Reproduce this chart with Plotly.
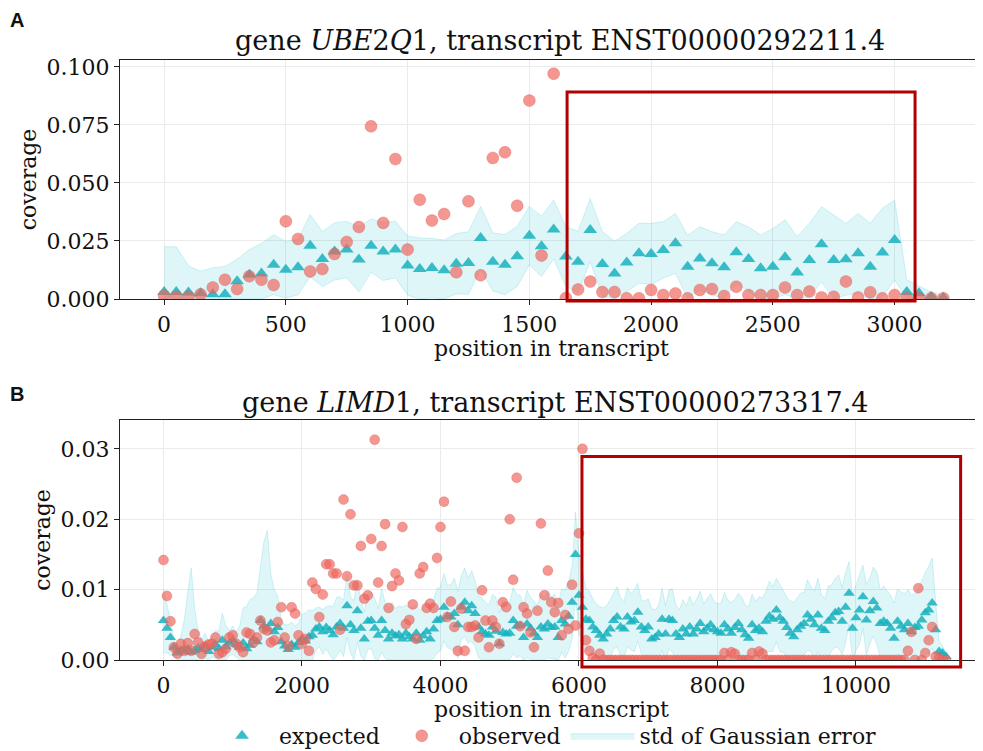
import plotly.graph_objects as go

FONT = "DejaVu Serif"

# ---------------- Panel A data (gene UBE2Q1) ----------------
pos_A = list(range(0, 3201, 50))
expected_A = [
    0.0030, 0.0030, 0.0028, 0.0025, 0.0020, 0.0020, 0.0076, 0.0105, 0.0110, 0.0148,
    0.0126, 0.0137, 0.0230, 0.0172, 0.0205, 0.0213, 0.0170, 0.0230, 0.0205, 0.0213,
    0.0144, 0.0129, 0.0134, 0.0124, 0.0152, 0.0155, 0.0263, 0.0160, 0.0148, 0.0184,
    0.0273, 0.0227, 0.0300, 0.0183, 0.0160, 0.0297, 0.0151, 0.0110, 0.0157, 0.0197,
    0.0194, 0.0211, 0.0240, 0.0139, 0.0175, 0.0154, 0.0137, 0.0201, 0.0172, 0.0132,
    0.0139, 0.0180, 0.0114, 0.0168, 0.0236, 0.0168, 0.0171, 0.0197, 0.0139, 0.0200,
    0.0254, 0.0030, 0.0025, 0.0010, 0.0005]
observed_A = [
    0.0014, 0.0010, 0.0010, 0.0020, 0.0050, 0.0083, 0.0043, 0.0098, 0.0083, 0.0060,
    0.0335, 0.0259, 0.0119, 0.0129, 0.0194, 0.0246, 0.0310, 0.0744, 0.0328, 0.0603,
    0.0213, 0.0428, 0.0338, 0.0366, 0.0115, 0.0421, 0.0102, 0.0608, 0.0632, 0.0402,
    0.0855, 0.0187, 0.0971, 0.0004, 0.0041, 0.0075, 0.0030, 0.0030, 0.0003, 0.0003,
    0.0039, 0.0017, 0.0024, 0.0003, 0.0039, 0.0043, 0.0013, 0.0053, 0.0017, 0.0017,
    0.0017, 0.0050, 0.0017, 0.0032, 0.0007, 0.0010, 0.0075, 0.0007, 0.0029, 0.0003,
    0.0017, 0.0003, 0.0003, 0.0003, 0.0003]
std_A = [
    0.0195, 0.0195, 0.0115, 0.0095, 0.0115, 0.0120, 0.0095, 0.0108, 0.0130, 0.0129,
    0.0123, 0.0119, 0.0134, 0.0119, 0.0123, 0.0122, 0.0140, 0.0115, 0.0125, 0.0122,
    0.0128, 0.0134, 0.0128, 0.0130, 0.0130, 0.0135, 0.0136, 0.0125, 0.0130, 0.0130,
    0.0126, 0.0130, 0.0127, 0.0129, 0.0132, 0.0136, 0.0139, 0.0139, 0.0126, 0.0129,
    0.0132, 0.0122, 0.0129, 0.0136, 0.0136, 0.0136, 0.0139, 0.0132, 0.0139, 0.0144,
    0.0165, 0.0161, 0.0155, 0.0158, 0.0162, 0.0194, 0.0155, 0.0172, 0.0187, 0.0191,
    0.0172, 0.0053, 0.0030, 0.0020, 0.0010]
box_A = dict(x0=1655, x1=3084, y0=-0.0009, y1=0.0892)

# ---------------- Panel B data (gene LIMD1) ----------------
pos_B = list(range(0, 11301, 50))
expected_B = [
    0.0056, 0.0045, 0.0032, 0.0018, 0.0010, 0.0014, 0.0012, 0.0016, 0.0011, 0.0013,
    0.0017, 0.0015, 0.0020, 0.0012, 0.0018, 0.0022, 0.0016, 0.0028, 0.0019, 0.0024,
    0.0028, 0.0022, 0.0018, 0.0024, 0.0016, 0.0021, 0.0030, 0.0026, 0.0056, 0.0048,
    0.0044, 0.0052, 0.0040, 0.0046, 0.0026, 0.0020, 0.0015, 0.0022, 0.0018, 0.0025,
    0.0030, 0.0027, 0.0033, 0.0035, 0.0044, 0.0047, 0.0040, 0.0046, 0.0042, 0.0036,
    0.0047, 0.0052, 0.0045, 0.0077, 0.0050, 0.0042, 0.0070, 0.0045, 0.0030, 0.0055,
    0.0056, 0.0045, 0.0035, 0.0056, 0.0042, 0.0030, 0.0038, 0.0034, 0.0036, 0.0030,
    0.0038, 0.0033, 0.0030, 0.0038, 0.0028, 0.0034, 0.0040, 0.0030, 0.0044, 0.0056,
    0.0058, 0.0075, 0.0062, 0.0061, 0.0066, 0.0050, 0.0075, 0.0082, 0.0070, 0.0077,
    0.0066, 0.0047, 0.0040, 0.0037, 0.0035, 0.0047, 0.0041, 0.0023, 0.0039, 0.0037,
    0.0038, 0.0056, 0.0048, 0.0049, 0.0032, 0.0051, 0.0045, 0.0038, 0.0032, 0.0047,
    0.0044, 0.0051, 0.0046, 0.0047, 0.0032, 0.0056, 0.0051, 0.0062, 0.0082, 0.0150,
    0.0092, 0.0075, 0.0058, 0.0056, 0.0047, 0.0042, 0.0035, 0.0030, 0.0037, 0.0044,
    0.0056, 0.0061, 0.0047, 0.0044, 0.0061, 0.0054, 0.0056, 0.0068, 0.0047, 0.0042,
    0.0047, 0.0030, 0.0032, 0.0037, 0.0058, 0.0037, 0.0058, 0.0056, 0.0037, 0.0032,
    0.0044, 0.0037, 0.0047, 0.0037, 0.0044, 0.0052, 0.0040, 0.0045, 0.0050, 0.0043,
    0.0040, 0.0038, 0.0050, 0.0044, 0.0038, 0.0046, 0.0052, 0.0043, 0.0036, 0.0031,
    0.0050, 0.0042, 0.0045, 0.0040, 0.0055, 0.0062, 0.0058, 0.0071, 0.0060, 0.0055,
    0.0046, 0.0038, 0.0033, 0.0043, 0.0048, 0.0052, 0.0064, 0.0058, 0.0050, 0.0064,
    0.0045, 0.0042, 0.0055, 0.0060, 0.0067, 0.0069, 0.0055, 0.0075, 0.0095, 0.0045,
    0.0060, 0.0071, 0.0090, 0.0057, 0.0070, 0.0083, 0.0074, 0.0052, 0.0055, 0.0052,
    0.0045, 0.0031, 0.0055, 0.0048, 0.0043, 0.0052, 0.0040, 0.0046, 0.0048, 0.0057,
    0.0067, 0.0071, 0.0081, 0.0043, 0.0012, 0.0010, 0.0005]
observed_B = [
    0.0142, 0.0091, 0.0055, 0.0018, 0.0009, 0.0023, 0.0013, 0.0024, 0.0013, 0.0037,
    0.0025, 0.0009, 0.0019, 0.0022, 0.0023, 0.0032, 0.0009, 0.0011, 0.0016, 0.0032,
    0.0035, 0.0023, 0.0018, 0.0011, 0.0039, 0.0037, 0.0025, 0.0032, 0.0056, 0.0044,
    0.0042, 0.0025, 0.0028, 0.0054, 0.0075, 0.0032, 0.0020, 0.0075, 0.0066, 0.0035,
    0.0023, 0.0030, 0.0013, 0.0110, 0.0101, 0.0061, 0.0093, 0.0136, 0.0136, 0.0123,
    0.0123, 0.0043, 0.0228, 0.0119, 0.0207, 0.0106, 0.0106, 0.0162, 0.0087, 0.0092,
    0.0172, 0.0313, 0.0110, 0.0162, 0.0193, 0.0074, 0.0105, 0.0123, 0.0113, 0.0189,
    0.0051, 0.0057, 0.0079, 0.0030, 0.0123, 0.0132, 0.0074, 0.0080, 0.0074, 0.0145,
    0.0189, 0.0225, 0.0061, 0.0083, 0.0047, 0.0013, 0.0073, 0.0013, 0.0047, 0.0047,
    0.0049, 0.0032, 0.0099, 0.0056, 0.0018, 0.0056, 0.0047, 0.0023, 0.0082, 0.0075,
    0.0200, 0.0114, 0.0259, 0.0048, 0.0075, 0.0066, 0.0039, 0.0018, 0.0070, 0.0194,
    0.0092, 0.0127, 0.0082, 0.0068, 0.0081, 0.0035, 0.0064, 0.0044, 0.0107, 0.0049,
    0.0180, 0.0300, 0.0028, 0.0013, 0.0003, 0.0000, 0.0009, 0.0000, 0.0000, 0.0000,
    0.0000, 0.0000, 0.0000, 0.0000, 0.0000, 0.0000, 0.0000, 0.0000, 0.0000, 0.0000,
    0.0000, 0.0000, 0.0000, 0.0000, 0.0000, 0.0000, 0.0000, 0.0000, 0.0000, 0.0000,
    0.0000, 0.0000, 0.0000, 0.0000, 0.0000, 0.0000, 0.0000, 0.0000, 0.0000, 0.0000,
    0.0000, 0.0000, 0.0010, 0.0000, 0.0011, 0.0009, 0.0000, 0.0000, 0.0000, 0.0000,
    0.0010, 0.0000, 0.0012, 0.0009, 0.0000, 0.0000, 0.0000, 0.0000, 0.0000, 0.0000,
    0.0000, 0.0000, 0.0000, 0.0000, 0.0000, 0.0000, 0.0000, 0.0000, 0.0000, 0.0000,
    0.0000, 0.0000, 0.0000, 0.0000, 0.0000, 0.0000, 0.0000, 0.0000, 0.0000, 0.0000,
    0.0000, 0.0000, 0.0000, 0.0000, 0.0000, 0.0000, 0.0000, 0.0000, 0.0000, 0.0000,
    0.0000, 0.0000, 0.0000, 0.0000, 0.0000, 0.0013, 0.0040, 0.0000, 0.0102, 0.0000,
    0.0010, 0.0028, 0.0047, 0.0005, 0.0002, 0.0000, 0.0000]
std_B = [
    0.0045, 0.0035, 0.0025, 0.0012, 0.0010, 0.0020, 0.0045, 0.0080, 0.0120, 0.0060,
    0.0025, 0.0015, 0.0018, 0.0015, 0.0014, 0.0020, 0.0025, 0.0038, 0.0030, 0.0018,
    0.0020, 0.0018, 0.0030, 0.0050, 0.0060, 0.0065, 0.0058, 0.0070, 0.0075, 0.0120,
    0.0140, 0.0070, 0.0060, 0.0045, 0.0030, 0.0030, 0.0035, 0.0032, 0.0030, 0.0028,
    0.0035, 0.0040, 0.0038, 0.0035, 0.0030, 0.0028, 0.0032, 0.0030, 0.0035, 0.0040,
    0.0042, 0.0038, 0.0040, 0.0045, 0.0040, 0.0042, 0.0045, 0.0040, 0.0038, 0.0040,
    0.0040, 0.0043, 0.0038, 0.0045, 0.0040, 0.0042, 0.0044, 0.0039, 0.0041, 0.0045,
    0.0040, 0.0042, 0.0046, 0.0039, 0.0043, 0.0040, 0.0044, 0.0045, 0.0042, 0.0046,
    0.0045, 0.0048, 0.0044, 0.0046, 0.0050, 0.0047, 0.0045, 0.0049, 0.0046, 0.0050,
    0.0047, 0.0044, 0.0048, 0.0045, 0.0043, 0.0046, 0.0048, 0.0044, 0.0046, 0.0045,
    0.0044, 0.0047, 0.0045, 0.0043, 0.0046, 0.0048, 0.0044, 0.0046, 0.0045, 0.0047,
    0.0045, 0.0048, 0.0044, 0.0046, 0.0047, 0.0045, 0.0048, 0.0050, 0.0052, 0.0060,
    0.0055, 0.0048, 0.0045, 0.0042, 0.0040, 0.0038, 0.0041, 0.0044, 0.0040, 0.0042,
    0.0040, 0.0043, 0.0041, 0.0039, 0.0042, 0.0040, 0.0044, 0.0041, 0.0038, 0.0042,
    0.0040, 0.0043, 0.0039, 0.0041, 0.0044, 0.0040, 0.0042, 0.0045, 0.0041, 0.0039,
    0.0042, 0.0040, 0.0044, 0.0041, 0.0043, 0.0046, 0.0040, 0.0042, 0.0044, 0.0041,
    0.0040, 0.0043, 0.0046, 0.0041, 0.0044, 0.0040, 0.0043, 0.0047, 0.0042, 0.0045,
    0.0044, 0.0041, 0.0045, 0.0048, 0.0043, 0.0050, 0.0046, 0.0045, 0.0048, 0.0044,
    0.0043, 0.0046, 0.0049, 0.0045, 0.0047, 0.0044, 0.0050, 0.0046, 0.0048, 0.0052,
    0.0048, 0.0045, 0.0050, 0.0047, 0.0049, 0.0052, 0.0048, 0.0050, 0.0045, 0.0047,
    0.0046, 0.0049, 0.0045, 0.0050, 0.0047, 0.0049, 0.0052, 0.0048, 0.0050, 0.0046,
    0.0047, 0.0050, 0.0046, 0.0049, 0.0051, 0.0048, 0.0052, 0.0049, 0.0053, 0.0055,
    0.0058, 0.0062, 0.0064, 0.0040, 0.0015, 0.0010, 0.0005]
box_B = dict(x0=6043, x1=11511, y0=-0.0010, y1=0.0289)

# tick labels
xticks_A = [0, 500, 1000, 1500, 2000, 2500, 3000]
yticks_A = [0.0, 0.025, 0.05, 0.075, 0.1]
yticktext_A = ["0.000", "0.025", "0.050", "0.075", "0.100"]
xticks_B = [0, 2000, 4000, 6000, 8000, 10000]
xticktext_B = ["0", "2000", "4000", "6000", "8000", "10000"]
yticks_B = [0.0, 0.01, 0.02, 0.03]
yticktext_B = ["0.00", "0.01", "0.02", "0.03"]

title_A = "gene <i>UBE</i>2<i>Q</i>1, transcript ENST00000292211.4"
title_B = "gene <i>LIMD</i>1, transcript ENST00000273317.4"

# ---------------- layout geometry ----------------
OFF = 8                      # page body margin
W, H = 983 - OFF, 751 - OFF  # figure size


def px_x(p):  # page pixel -> paper x
    return (p - OFF) / W


def px_y(p):  # page pixel -> paper y
    return (H - (p - OFF)) / H


xdom = [px_x(120), 1.0]
ydom_A = [px_y(299), px_y(60)]
ydom_B = [px_y(660), px_y(420)]
xr_A = [-181, 3363]
yr_A = [0, 0.1030]
xr_B = [-628, 11834]
yr_B = [0, 0.0341]

TRI = "rgba(23,178,190,0.85)"
CIRC = "rgba(240,100,92,0.68)"
BAND = "rgba(23,190,207,0.14)"

fig = go.Figure()


def add_panel(pos, exp, obs, std, xa, ya, show, msize):
    up = [e + s for e, s in zip(exp, std)]
    lo = [max(e - s, 0.0) for e, s in zip(exp, std)]
    fig.add_trace(go.Scatter(
        x=pos + pos[::-1], y=up + lo[::-1], fill="toself", fillcolor=BAND,
        mode="lines", line=dict(color="rgba(23,190,207,0.18)", width=1),
        name="std of Gaussian error", legendrank=3, showlegend=show,
        xaxis=xa, yaxis=ya, hoverinfo="skip"))
    fig.add_trace(go.Scatter(
        x=pos, y=exp, mode="markers", name="expected", legendrank=1,
        marker=dict(symbol="triangle-up", size=msize, color=TRI, line=dict(width=0)),
        showlegend=show, xaxis=xa, yaxis=ya))
    fig.add_trace(go.Scatter(
        x=pos, y=obs, mode="markers", name="observed", legendrank=2,
        marker=dict(symbol="circle", size=msize, color=CIRC,
                    line=dict(width=0.6, color="rgba(200,90,85,0.5)")),
        showlegend=show, xaxis=xa, yaxis=ya))


add_panel(pos_A, expected_A, observed_A, std_A, "x", "y", True, 12)
add_panel(pos_B, expected_B, observed_B, std_B, "x2", "y2", False, 10)


def to_paper(v, rng, dom):
    return dom[0] + (v - rng[0]) / (rng[1] - rng[0]) * (dom[1] - dom[0])


for box, xr, yr, yd in [(box_A, xr_A, yr_A, ydom_A), (box_B, xr_B, yr_B, ydom_B)]:
    fig.add_shape(type="rect", xref="paper", yref="paper",
                  x0=to_paper(box["x0"], xr, xdom), x1=to_paper(box["x1"], xr, xdom),
                  y0=to_paper(box["y0"], yr, yd), y1=to_paper(box["y1"], yr, yd),
                  line=dict(color="#B00000", width=3), layer="above")

axis_common = dict(
    showline=True, linecolor="#222", linewidth=1.2, ticks="outside", ticklen=5,
    tickcolor="#222", showgrid=True, gridcolor="#ebebeb", gridwidth=1, zeroline=False,
    tickfont=dict(family=FONT, size=22, color="#111"), automargin=False,
)
tfont = dict(family=FONT, size=22, color="#111")

fig.update_layout(
    width=W, height=H, margin=dict(l=0, r=0, t=0, b=0, autoexpand=False),
    paper_bgcolor="white", plot_bgcolor="white",
    font=dict(family=FONT, size=22, color="#111"),
    xaxis=dict(domain=xdom, range=xr_A, anchor="y", mirror=True, tickvals=xticks_A,
               title=dict(text="position in transcript", font=tfont, standoff=5),
               **axis_common),
    yaxis=dict(domain=ydom_A, range=yr_A, anchor="x", tickvals=yticks_A, ticktext=yticktext_A,
               title=dict(text="coverage", font=tfont, standoff=3),
               **axis_common),
    xaxis2=dict(domain=xdom, range=xr_B, anchor="y2", mirror=True, tickvals=xticks_B,
                ticktext=xticktext_B,
                title=dict(text="position in transcript", font=tfont, standoff=5),
                **axis_common),
    yaxis2=dict(domain=ydom_B, range=yr_B, anchor="x2", tickvals=yticks_B, ticktext=yticktext_B,
                title=dict(text="coverage", font=tfont, standoff=3),
                **axis_common),
    legend=dict(orientation="h", x=px_x(205), xanchor="left", y=px_y(736), yanchor="middle",
                font=tfont, bgcolor="rgba(0,0,0,0)", itemwidth=64),
    showlegend=True,
    annotations=[
        dict(text=title_A, x=px_x(560), y=px_y(41), xref="paper", yref="paper",
             showarrow=False, font=dict(family=FONT, size=27, color="#111"),
             xanchor="center", yanchor="middle"),
        dict(text=title_B, x=px_x(555), y=px_y(402), xref="paper", yref="paper",
             showarrow=False, font=dict(family=FONT, size=27, color="#111"),
             xanchor="center", yanchor="middle"),
        dict(text="<b>A</b>", x=px_x(8), y=px_y(20), xref="paper", yref="paper", showarrow=False,
             font=dict(family="Liberation Sans", size=20, color="#111"),
             xanchor="left", yanchor="middle"),
        dict(text="<b>B</b>", x=px_x(8), y=px_y(394), xref="paper", yref="paper", showarrow=False,
             font=dict(family="Liberation Sans", size=20, color="#111"),
             xanchor="left", yanchor="middle"),
    ],
)

fig.write_html("out.html")
